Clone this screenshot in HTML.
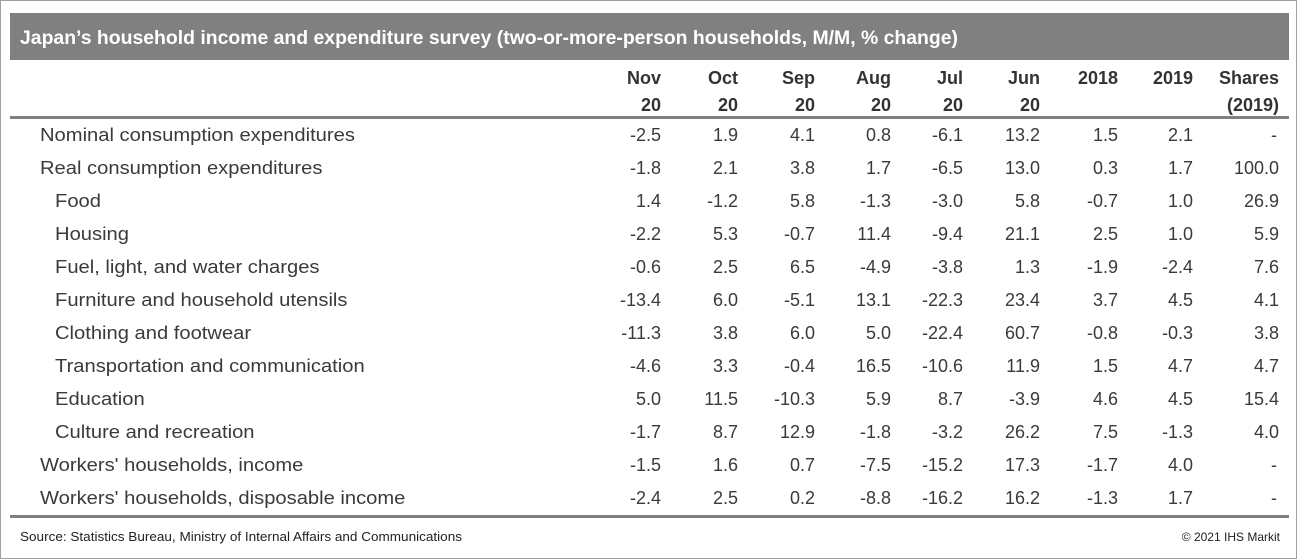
<!DOCTYPE html>
<html><head><meta charset="utf-8"><style>
html,body{margin:0;padding:0;background:#fff}
svg{display:block}
text{font-family:"Liberation Sans",sans-serif}
</style></head><body>
<svg id="tbl" width="1297" height="559">
<rect x="0.5" y="0.5" width="1296" height="558" fill="#fff" stroke="#a0a0a0"/>
<rect x="10" y="13" width="1279" height="47" fill="#808080"/>
<text x="20" y="44" fill="#fff" font-size="19" font-weight="bold" textLength="938" lengthAdjust="spacingAndGlyphs">Japan’s household income and expenditure survey (two-or-more-person households, M/M, % change)</text>
<rect x="10" y="116" width="1279" height="3" fill="#808080"/>
<rect x="10" y="515" width="1279" height="3" fill="#808080"/>
<text x="20" y="541" font-size="12.5" fill="#222" textLength="442" lengthAdjust="spacingAndGlyphs">Source: Statistics Bureau, Ministry of Internal Affairs and Communications</text>
<text x="1280" y="541" font-size="12" fill="#222" text-anchor="end">© 2021 IHS Markit</text>
<g id="body"></g>
</svg>
<script>
const colHead1 = ["Nov","Oct","Sep","Aug","Jul","Jun","2018","2019","Shares"];
const colHead2 = ["20","20","20","20","20","20","","","(2019)"];
const rowLabels = ["Nominal consumption expenditures","Real consumption expenditures","Food","Housing","Fuel, light, and water charges","Furniture and household utensils","Clothing and footwear","Transportation and communication","Education","Culture and recreation","Workers' households, income","Workers' households, disposable income"];
const rowIndent = [0,0,1,1,1,1,1,1,1,1,0,0];
const rowValues = [
["-2.5","1.9","4.1","0.8","-6.1","13.2","1.5","2.1","-"],
["-1.8","2.1","3.8","1.7","-6.5","13.0","0.3","1.7","100.0"],
["1.4","-1.2","5.8","-1.3","-3.0","5.8","-0.7","1.0","26.9"],
["-2.2","5.3","-0.7","11.4","-9.4","21.1","2.5","1.0","5.9"],
["-0.6","2.5","6.5","-4.9","-3.8","1.3","-1.9","-2.4","7.6"],
["-13.4","6.0","-5.1","13.1","-22.3","23.4","3.7","4.5","4.1"],
["-11.3","3.8","6.0","5.0","-22.4","60.7","-0.8","-0.3","3.8"],
["-4.6","3.3","-0.4","16.5","-10.6","11.9","1.5","4.7","4.7"],
["5.0","11.5","-10.3","5.9","8.7","-3.9","4.6","4.5","15.4"],
["-1.7","8.7","12.9","-1.8","-3.2","26.2","7.5","-1.3","4.0"],
["-1.5","1.6","0.7","-7.5","-15.2","17.3","-1.7","4.0","-"],
["-2.4","2.5","0.2","-8.8","-16.2","16.2","-1.3","1.7","-"]
];
const colRight=[661,738,815,891,963,1040,1118,1193,1279];
const NS="http://www.w3.org/2000/svg";
const g=document.getElementById('body');
function t(x,y,s,opts){const e=document.createElementNS(NS,'text');e.setAttribute('x',x);e.setAttribute('y',y);e.textContent=s;for(const k in opts)e.setAttribute(k,opts[k]);g.appendChild(e);return e;}
colHead1.forEach((h,i)=>{
 const e=t(colRight[i],84,h,{'text-anchor':'end','font-size':'18','font-weight':'bold','fill':'#333'});
 
 
 if(colHead2[i]){const f=t(colRight[i],111,colHead2[i],{'text-anchor':'end','font-size':'18','font-weight':'bold','fill':'#333'});
 
 }
});
rowLabels.forEach((lab,r)=>{
 const y=141+r*33;
 const e=t(rowIndent[r]?55:40,y,lab,{'font-size':'18','fill':'#3a3a3a'});
 
 
 const w=e.getComputedTextLength();
 e.setAttribute('textLength',(w*1.12).toFixed(1));
 e.setAttribute('lengthAdjust','spacingAndGlyphs');
 rowValues[r].forEach((v,c)=>{
  const f=t(colRight[c]-(v==='-'?2:0),y,v,{'text-anchor':'end','font-size':'18','fill':'#3a3a3a'});
  
  
 });
});
</script>
</body></html>
